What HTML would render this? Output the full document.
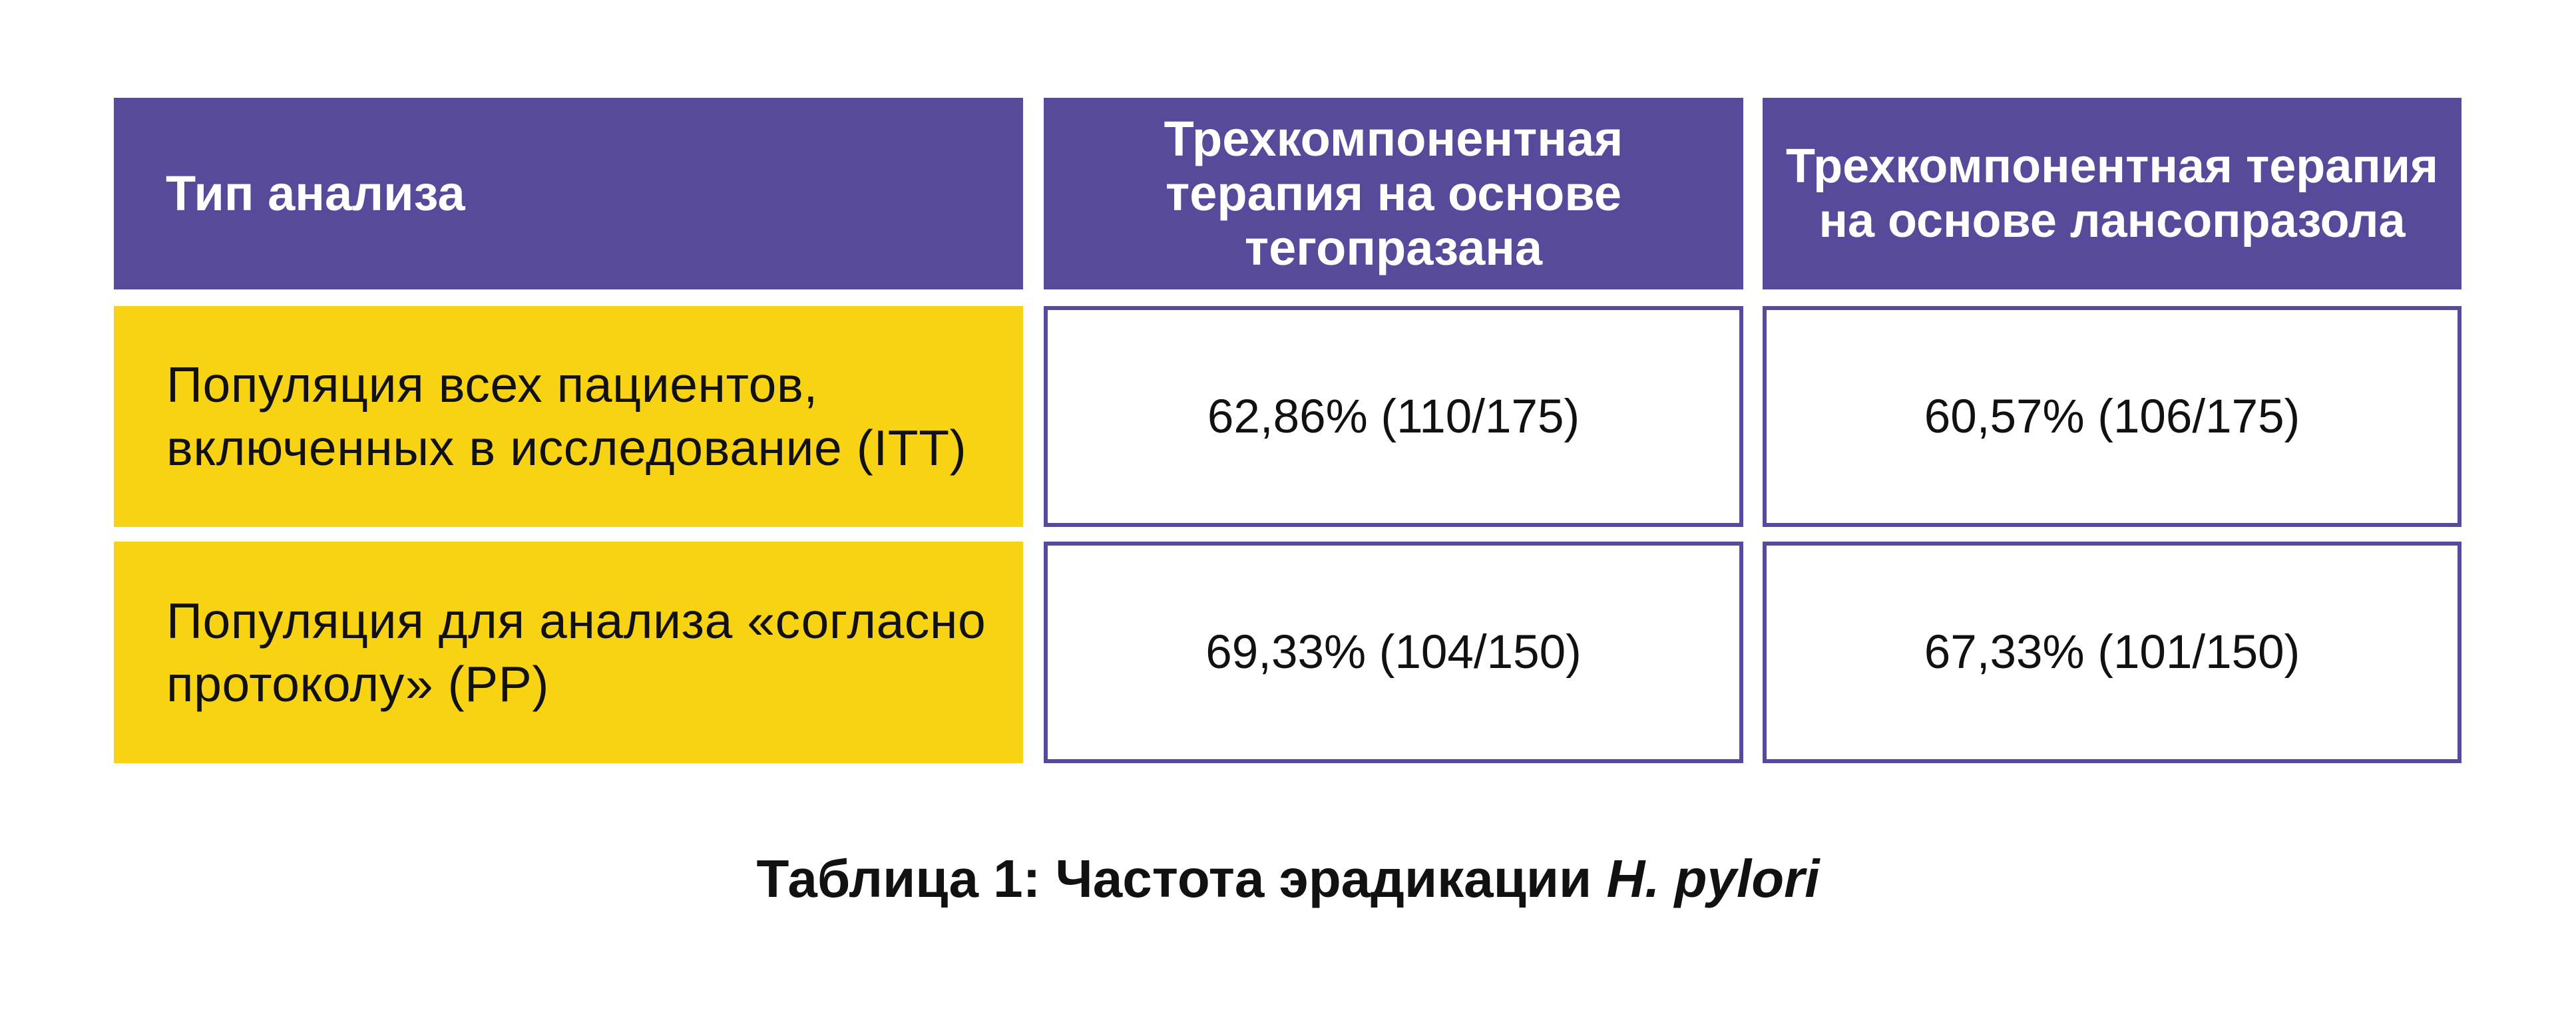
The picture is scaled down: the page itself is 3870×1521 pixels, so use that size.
<!DOCTYPE html>
<html>
<head>
<meta charset="utf-8">
<style>
  html, body { margin:0; padding:0; background:#ffffff; }
  body { width:3870px; height:1521px; position:relative; overflow:hidden;
         font-family:"Liberation Sans","Noto Sans CJK SC",sans-serif; }
  .cell { position:absolute; box-sizing:border-box; display:flex; align-items:center; white-space:nowrap; }
  .hdr { background:#574A9A; color:#ffffff; font-weight:bold; font-size:74px; line-height:82px; }
  .yel { background:#F8D314; color:#111111; font-size:75px; letter-spacing:0.6px; line-height:95px; padding-left:79px; }
  .box { border:6px solid #574A9A; background:#ffffff; color:#111111; font-size:71px; justify-content:center; text-align:center; }
  .center { justify-content:center; text-align:center; }
  .cap { position:absolute; left:0; width:3870px; top:1275px; text-align:center; font-weight:bold; font-size:80px; color:#111111; line-height:92px; }
</style>
</head>
<body>
  <!-- Header row -->
  <div class="cell hdr" style="left:171px; top:147px; width:1366px; height:288px; padding-left:78px;">Тип анализа</div>
  <div class="cell hdr center" style="left:1568px; top:147px; width:1051px; height:288px;"><div>Трехкомпонентная<br>терапия на основе<br>тегопразана</div></div>
  <div class="cell hdr center" style="left:2648px; top:147px; width:1050px; height:288px; font-size:72px;"><div>Трехкомпонентная терапия<br>на основе лансопразола</div></div>

  <!-- Row 1 -->
  <div class="cell yel" style="left:171px; top:460px; width:1366px; height:332px;"><div>Популяция всех пациентов,<br>включенных в исследование (ITT)</div></div>
  <div class="cell box" style="left:1568px; top:460px; width:1051px; height:332px;">62,86% (110/175)</div>
  <div class="cell box" style="left:2648px; top:460px; width:1050px; height:332px;">60,57% (106/175)</div>

  <!-- Row 2 -->
  <div class="cell yel" style="left:171px; top:814px; width:1366px; height:333px;"><div>Популяция для анализа «согласно<br>протоколу» (PP)</div></div>
  <div class="cell box" style="left:1568px; top:814px; width:1051px; height:333px;">69,33% (104/150)</div>
  <div class="cell box" style="left:2648px; top:814px; width:1050px; height:333px;">67,33% (101/150)</div>

  <!-- Caption -->
  <div class="cap">Таблица 1: Частота эрадикации <i>H. pylori</i></div>
</body>
</html>
